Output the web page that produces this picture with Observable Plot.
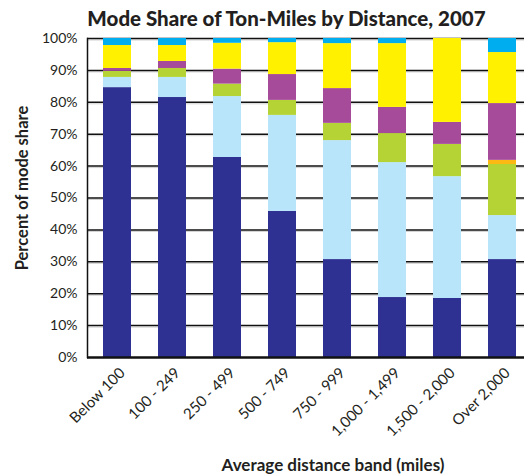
<!DOCTYPE html>
<html><head><meta charset="utf-8">
<script src="https://cdn.jsdelivr.net/npm/d3@7"></script>
<script src="https://cdn.jsdelivr.net/npm/@observablehq/plot@0.6"></script>
<style>
body{margin:0;background:#fff;overflow:hidden}
#wrap{position:relative;width:524px;height:474px;font-family:Lato, sans-serif;color:#231f20}
#chart{position:absolute;left:0;top:0}
#title{position:absolute;left:0;top:0;width:524px;padding-left:49px;box-sizing:border-box;text-align:center;font-weight:900;font-size:20.5px;line-height:36px;white-space:nowrap}
#ylab{position:absolute;left:22px;top:188px;transform:translate(-50%,-50%) rotate(-90deg);font-weight:bold;font-size:16.5px;white-space:nowrap}
#xlab{position:absolute;left:333px;top:464px;transform:translate(-50%,-50%);font-weight:bold;font-size:17px;white-space:nowrap}
</style>
</head><body>
<div id="wrap">
<div id="chart"></div>
<div id="title">Mode Share of Ton-Miles by Distance, 2007</div>
<div id="ylab">Percent of mode share</div>
<div id="xlab">Average distance band (miles)</div>
</div>
<script>
const distanceBands = ["Below 100","100 - 249","250 - 499","500 - 749","750 - 999","1,000 - 1,499","1,500 - 2,000","Over 2,000"];
const modes = ["Truck","Rail","Water","Air","Pipeline","Multiple modes","Other and unknown"];
const modeColors = ["#2e3192","#b9e5fb","#b5d334","#fdb913","#a64a9a","#fff100","#00aeef"];
const truck    = [84.6, 81.5, 62.7, 45.8, 30.7, 18.8, 18.5, 30.7];
const rail     = [ 3.2,  6.3, 19.1, 30.1, 37.3, 42.3, 38.2, 13.8];
const water    = [ 1.9,  2.8,  3.9,  4.7,  5.4,  9.1, 10.1, 16.0];
const air      = [ 0.0,  0.0,  0.0,  0.0,  0.0,  0.0,  0.0,  1.3];
const pipeline = [ 0.9,  2.2,  4.7,  8.1, 10.9,  8.2,  6.9, 17.8];
const multiple = [ 7.2,  5.0,  8.1, 10.0, 14.1, 20.0, 26.3, 16.0];
const other    = [ 2.2,  2.2,  1.5,  1.3,  1.6,  1.6,  0.0,  4.4];
const yTicks = [0,10,20,30,40,50,60,70,80,90,100];

const series = [truck, rail, water, air, pipeline, multiple, other];
const data = [];
series.forEach((vals, i) => vals.forEach((v, j) => data.push({band: distanceBands[j], mode: modes[i], share: v})));

const plot = Plot.plot({
  width: 524,
  height: 474,
  marginTop: 38,
  marginBottom: 117,
  marginLeft: 87,
  marginRight: 0,
  style: {fontFamily: "Lato, sans-serif", fontSize: "14px", color: "#231f20", background: "transparent"},
  x: {type: "band", domain: distanceBands, range: [87, 531], paddingInner: 0.5, paddingOuter: 0.25, align: 0.5},
  y: {domain: [0, 100]},
  color: {domain: modes, range: modeColors},
  marks: [
    Plot.ruleY(yTicks.slice(1), {stroke: "#cfcfcf", strokeWidth: 1, dy: 1.5}),
    Plot.ruleY(yTicks.slice(1), {stroke: "#111", strokeWidth: 1.5}),
    Plot.barY(data, {x: "band", y: "share", fill: "mode"}),
    Plot.ruleY([0], {stroke: "#111", strokeWidth: 2.5}),
    Plot.frame({anchor: "left", stroke: "#111", strokeWidth: 1.5}),
    Plot.axisY({ticks: yTicks, tickFormat: d => d + "%", tickSize: 0, tickPadding: 10, fontSize: 14, label: null}),
    Plot.axisX({tickRotate: -45, tickSize: 0, tickPadding: 8, dx: 5, dy: 5, fontSize: 15, label: null})
  ]
});
document.getElementById("chart").appendChild(plot);
</script>
</body></html>
